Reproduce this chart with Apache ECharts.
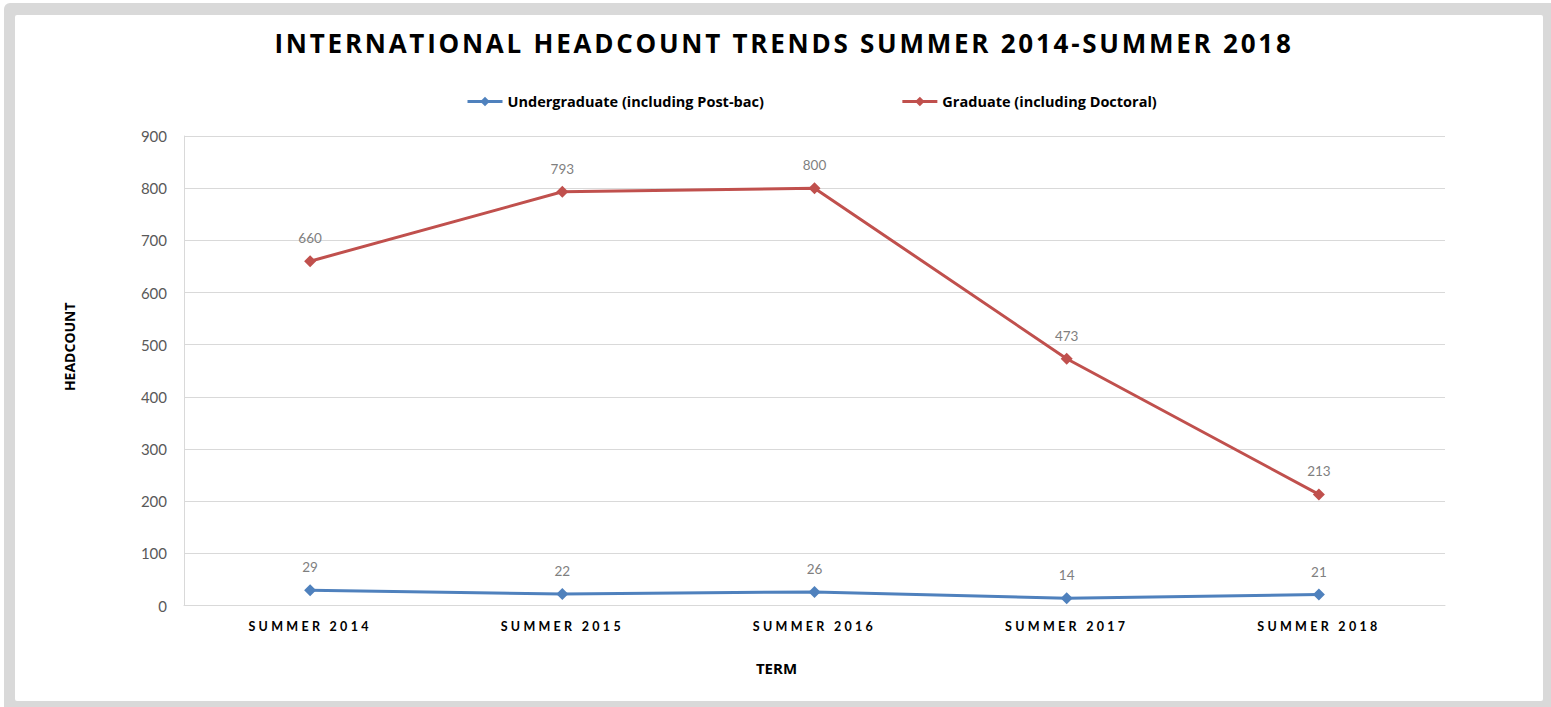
<!DOCTYPE html>
<html>
<head>
<meta charset="utf-8">
<script src="https://cdn.jsdelivr.net/npm/echarts@6/dist/echarts.min.js"></script>
<style>
html,body{margin:0;padding:0;background:#fff;}
#chart{width:1551px;height:707px;}
#chart text[style*="26px"]{letter-spacing:2.75px;}
#chart text[style*="12.5px"]{letter-spacing:3.3px;}
</style>
</head>
<body>
<div id="chart"></div>
<script>
const categories = ['SUMMER 2014','SUMMER 2015','SUMMER 2016','SUMMER 2017','SUMMER 2018'];
const undergrad = [29, 22, 26, 14, 21];
const graduate = [660, 793, 800, 473, 213];
const seriesNames = ['Undergraduate (including Post-bac)', 'Graduate (including Doctoral)'];
const titleText = 'INTERNATIONAL HEADCOUNT TRENDS SUMMER 2014-SUMMER 2018';

const chart = echarts.init(document.getElementById('chart'), null, {renderer:'svg'});
const FONT = 'Lato, "Open Sans", sans-serif';
const OS = '"Open Sans", Lato, sans-serif';
const labelStyle = {show:true, position:'top', distance:10, color:'#7f7f7f', fontSize:13.5, fontFamily:FONT};
chart.setOption({
  animation:false,
  graphic:[
    {type:'rect', z:-10, silent:true, shape:{x:4,y:3,width:1560,height:720,r:6}, style:{fill:'#d9d9d9'}},
    {type:'rect', z:-9, silent:true, shape:{x:15,y:15,width:1528,height:686,r:2}, style:{fill:'#ffffff'}}
  ],
  title:{
    text:titleText, left:779, top:25, textAlign:'center',
    textStyle:{fontFamily:OS, fontWeight:'bold', fontSize:26, color:'#000'}
  },
  legend:{
    left:461, top:89, itemGap:137, itemWidth:35, itemHeight:12,
    lineStyle:{width:3},
    textStyle:{fontFamily:OS, fontWeight:'bold', fontSize:14.5, color:'#000'},
    data:seriesNames
  },
  grid:{left:184, right:106, top:136, bottom:101.5, containLabel:false},
  xAxis:{
    type:'category', data:categories, boundaryGap:true,
    name:'TERM', nameLocation:'middle', nameGap:55,
    nameTextStyle:{fontFamily:OS, fontWeight:'bold', fontSize:15, color:'#000', padding:[0,76,0,0]},
    axisLine:{show:true, lineStyle:{color:'#d9d9d9', width:1}},
    axisTick:{show:false},
    axisLabel:{fontFamily:FONT, fontWeight:'bold', fontSize:12.5, color:'#000', margin:14}
  },
  yAxis:{
    type:'value', min:0, max:900, interval:100,
    name:'HEADCOUNT', nameLocation:'middle', nameGap:108, nameRotate:90,
    nameTextStyle:{fontFamily:OS, fontWeight:'bold', fontSize:14, color:'#000', padding:[0,0,0,48]},
    axisLine:{show:true, lineStyle:{color:'#d9d9d9', width:1}},
    axisTick:{show:false},
    axisLabel:{fontFamily:FONT, fontSize:15, color:'#595959', margin:17},
    splitLine:{show:true, lineStyle:{color:'#d9d9d9', width:1}}
  },
  series:[
    {name:seriesNames[0], type:'line', data:undergrad, symbol:'diamond', symbolSize:12,
     lineStyle:{color:'#4f81bd', width:3}, itemStyle:{color:'#4f81bd'}, label:labelStyle},
    {name:seriesNames[1], type:'line', data:graduate, symbol:'diamond', symbolSize:12,
     lineStyle:{color:'#c0504d', width:3}, itemStyle:{color:'#c0504d'}, label:labelStyle}
  ]
});
</script>
</body>
</html>
